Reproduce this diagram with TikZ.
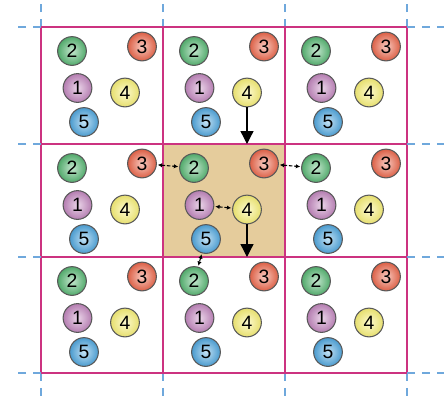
\documentclass[tikz,border=0pt]{standalone}
\usepackage{fontspec}
\setmainfont{Liberation Sans}
\usetikzlibrary{arrows.meta}
\definecolor{ballgreen}{RGB}{88,184,116}
\definecolor{ballred}{RGB}{238,104,76}
\definecolor{ballpurple}{RGB}{196,136,192}
\definecolor{ballyellow}{RGB}{250,242,120}
\definecolor{ballblue}{RGB}{80,168,224}
\definecolor{celltan}{RGB}{229,204,156}
\definecolor{gridpink}{RGB}{204,51,128}
\definecolor{tickblue}{RGB}{111,168,220}

\begin{document}
\begin{tikzpicture}[x=0.02cm, y=-0.02cm,
    ball/.style={circle, draw=black!65, line width=0.6pt, minimum size=0.575cm,
        inner sep=0pt, inner color=#1!35!white, outer color=#1!92!black,
        font=\fontsize{11}{12}\selectfont},
    gridline/.style={gridpink, line width=0.8pt},
    tick/.style={tickblue, line width=0.8pt, dash pattern=on 4.5pt off 4pt},
    bigarrow/.style={-{Triangle[length=0.26cm, width=0.26cm]}, line width=0.75pt},
    smallarrow/.style={{Latex[length=2.5pt, width=2.5pt]}-{Latex[length=2.5pt, width=2.5pt]},
        line width=0.6pt, dash pattern=on 2pt off 1pt, shorten <=0.5pt, shorten >=0.5pt}]
    \useasboundingbox (0,0) rectangle (444,400);
    % Centre cell
    \fill[celltan] (163,144) rectangle (285,257);
    % Grid lines
    \foreach \x in {41,163,285,407} {
        \draw[gridline] (\x,27) -- (\x,373);
        \draw[tick] (\x,27) -- (\x,2);
        \draw[tick] (\x,373) -- (\x,398);
    }
    \foreach \y in {27,144,257,373} {
        \draw[gridline] (41,\y) -- (407,\y);
        \draw[tick] (41,\y) -- (18,\y);
        \draw[tick] (407,\y) -- (444,\y);
    }
    % Five balls in every cell
    \foreach \i/\x in {0/41,1/163,2/285} {
        \foreach \j/\y in {0/27,1/144,2/257} {
            \node[ball=ballgreen] (b\i\j2) at (\x+31,\y+24) {2};
            \node[ball=ballred] (b\i\j3) at (\x+101,\y+19.5) {3};
            \node[ball=ballpurple] (b\i\j1) at (\x+36.5,\y+61) {1};
            \node[ball=ballyellow] (b\i\j4) at (\x+84,\y+65.5) {4};
            \node[ball=ballblue] (b\i\j5) at (\x+43,\y+95) {5};
        }
    }
    % Moves
    \coordinate (celltop) at (163,144);
    \coordinate (cellbot) at (163,257);
    \draw[bigarrow] (b104) -- (b104 |- celltop);
    \draw[bigarrow] (b114) -- (b114 |- cellbot);
    \draw[smallarrow] (b013) -- (b112);
    \draw[smallarrow] (b113) -- (b212);
    \draw[smallarrow] (b111) -- (b114);
    \draw[smallarrow] (b115) -- (b122);
\end{tikzpicture}
\end{document}
